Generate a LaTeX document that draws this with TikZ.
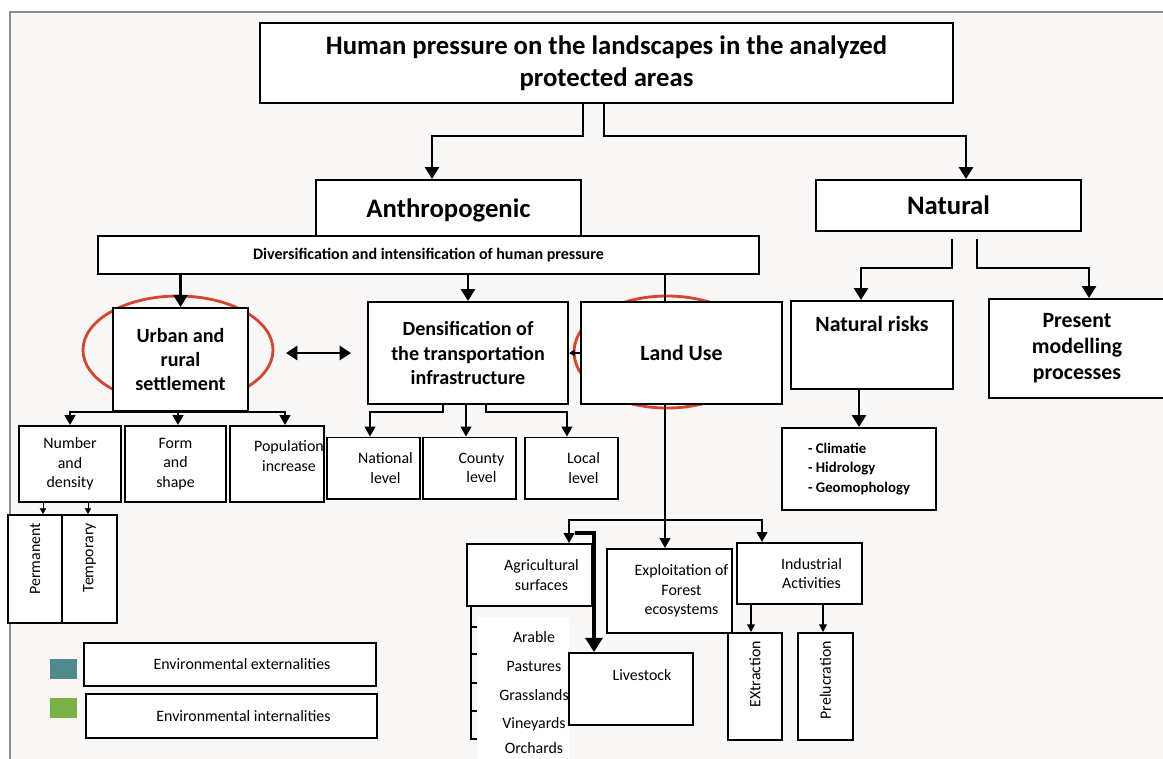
\documentclass[tikz,border=0pt]{standalone}
\usepackage{fontspec}
\setmainfont{Carlito}
\usepackage{tikz}
\usetikzlibrary{positioning, arrows.meta}

\definecolor{ringred}{HTML}{D8442E}
\definecolor{extteal}{HTML}{4F8A8C}
\definecolor{intgreen}{HTML}{78B146}
\definecolor{sheet}{HTML}{F9F8F6}

\tikzset{
	box/.style={draw, line width=1.4pt, fill=white, align=center, inner sep=2pt},
	titletxt/.style={font=\bfseries\fontsize{19}{23}\selectfont},
	headtxt/.style={font=\bfseries\fontsize{19}{22}\selectfont},
	midtxt/.style={font=\bfseries\fontsize{14.3}{17.4}\selectfont},
	bigtxt/.style={font=\bfseries\fontsize{15.5}{18.5}\selectfont},
	bartxt/.style={font=\bfseries\fontsize{11.4}{13}\selectfont},
	listtxt/.style={font=\bfseries\fontsize{10.5}{13.9}\selectfont},
	smalltxt/.style={font=\fontsize{11.3}{13.9}\selectfont, align=center},
	offtxt/.style={label={[smalltxt, anchor=center, xshift=0.3cm]center:#1}},
	vbox/.style={box, smalltxt, rotate=90, align=right},
	ring/.style={draw=ringred, line width=2pt},
	arr/.style={line width=1.8pt, -{Triangle[width=10pt,length=8.5pt]}},
	arrmid/.style={line width=1.4pt, -{Triangle[width=7.5pt,length=7pt]}},
	arrsmall/.style={line width=1pt, -{Triangle[width=5.5pt,length=5.5pt]}},
	arrtiny/.style={line width=0.5pt, -{Triangle[width=4.5pt,length=4pt]}},
	link/.style={line width=1.4pt},
}

\begin{document}
\begin{tikzpicture}[x=0.025cm, y=-0.025cm]
	\useasboundingbox (0,0) rectangle (1163,758);
	\fill[white] (0,0) rectangle (1163,758);
	\draw[fill=sheet, draw=black!45, line width=0.8pt] (10,12) rectangle (1180,775);
	
	\draw[ring] (178,350) ellipse [x radius=95, y radius=54];
	\draw[ring] (667,352) ellipse [x radius=93, y radius=56];
	
	\node[box, titletxt, minimum width=17.325cm, minimum height=2cm] (title) at (606.5,63) {Human pressure on the landscapes in the analyzed\\protected areas};
	\node[box, headtxt, minimum width=6.625cm, minimum height=1.5cm] (anthro) at (448.5,210) {Anthropogenic};
	\node[box, headtxt, minimum width=6.625cm, minimum height=1.275cm] (natural) at (948.5,205.5) {Natural};
	\node[box, bartxt, minimum width=16.525cm, minimum height=0.95cm] (divers) at (428.5,255) {Diversification and intensification of human pressure};
	
	\draw[arr] ([xshift=-0.5875cm]title.south) -- ++(0,32) -| ([xshift=-0.4125cm]anthro.north);
	\draw[arr] ([xshift=-0.0625cm]title.south) -- ++(0,32) -| ([xshift=0.4375cm]natural.north);
	
	\node[box, midtxt, minimum width=3.375cm, minimum height=2.575cm] (urban) at (180.5,359.5) {Urban and\\rural\\settlement};
	\node[box, midtxt, minimum width=5cm, minimum height=2.55cm] (dens) at (468,353) {Densification of\\the transportation\\infrastructure};
	\node[box, bigtxt, minimum width=5.025cm, minimum height=2.55cm] (landuse) at (681.5,353) {Land Use};
	\node[box, minimum width=4.05cm, minimum height=2.2cm, label={[bigtxt, anchor=north, yshift=-0.275cm]north:Natural risks}] (risks) at (872,345) {};
	\node[box, bigtxt, minimum width=4.4cm, minimum height=2.475cm] (present) at (1077,348.5) {Present\\modelling\\processes};
	\node[box, listtxt, align=left, minimum width=3.85cm, minimum height=2.05cm] (climate) at (859,469) {- Climatie\\- Hidrology\\- Geomophology};
	
	\draw[arr] (urban.north |- divers.south) -- (urban.north);
	\draw[arr] (dens.north |- divers.south) -- (dens.north);
	\draw[link] ([xshift=-0.4125cm]landuse.north |- divers.south) -- ([xshift=-0.4125cm]landuse.north);
	\draw[{Triangle[width=10pt,length=8pt]}-{Triangle[width=10pt,length=8pt]}, line width=1.8pt] ([xshift=0.925cm]urban.east |- dens.west) -- ([xshift=-0.4cm]dens.west);
	\draw[arrtiny, line width=1pt] (landuse.west) -- (dens.east);
	\draw[arr] ([xshift=0.0875cm, yshift=-0.175cm]natural.south) -- ++(0,29) -| ([xshift=-0.275cm]risks.north);
	\draw[arr] ([xshift=0.7125cm, yshift=-0.175cm]natural.south) -- ++(0,29) -| ([xshift=0.3cm]present.north);
	\draw[arr] (climate.north |- risks.south) -- (climate.north);
	
	\node[box, smalltxt, minimum width=2.55cm, minimum height=1.9cm] (number) at (70,464) {Number\\and\\density};
	\node[box, smalltxt, minimum width=2.525cm, minimum height=1.9cm, right=0.05cm of number] (form) {Form\\and\\shape};
	\node[box, minimum width=2.35cm, minimum height=1.9cm, right=0.05cm of form, label={[smalltxt, anchor=center, xshift=0.3cm, yshift=0.2cm]center:Population\\increase}] (pop) {};
	\node[box, minimum width=2.325cm, minimum height=1.525cm, right=0.025cm of pop, yshift=-0.1cm, offtxt={National\\level}] (national) {};
	\node[box, minimum width=2.325cm, minimum height=1.525cm, right=0.025cm of national, offtxt={County\\level}] (county) {};
	\node[box, minimum width=2.325cm, minimum height=1.525cm, right=0.175cm of county, offtxt={Local\\level}] (local) {};
	
	\node[vbox, minimum width=2.7cm, minimum height=1.35cm, text width=2.3cm] (perm) at (35,569) {Permanent};
	\node[vbox, minimum width=2.7cm, minimum height=1.375cm, text width=2.3cm] (temp) at (89.5,569) {Temporary};
	\draw[arrtiny] ([xshift=-0.675cm]number.south) -- ([xshift=-0.675cm]number.south |- perm.east);
	\draw[arrtiny] ([xshift=0.45cm]number.south) -- ([xshift=0.45cm]number.south |- temp.east);
	
	\draw[arrmid] (urban.south) -| (number.north);
	\draw[arrmid] ([xshift=-0.0625cm]urban.south) -- ([xshift=-0.0625cm]urban.south |- form.north);
	\draw[arrmid] (urban.south) -| ([xshift=0.2cm]pop.north);
	\draw[arrmid] ([xshift=-0.625cm]dens.south) -- ++(0,7) -| ([xshift=-0.0875cm]national.north);
	\draw[arrmid] ([xshift=-0.05cm]dens.south) -- ([xshift=-0.05cm]dens.south |- county.north);
	\draw[arrmid] ([xshift=0.45cm]dens.south) -- ++(0,7) -| ([xshift=-0.1125cm]local.north);
	
	\node[fill=extteal, minimum width=0.675cm, minimum height=0.5cm, inner sep=0pt] (extkey) at (63.5,669) {};
	\node[fill=intgreen, minimum width=0.675cm, minimum height=0.5cm, inner sep=0pt] (intkey) at (63.5,708) {};
	\node[box, minimum width=7.3cm, minimum height=1.075cm, offtxt={Environmental externalities}] (extbox) at (230,664.5) {};
	\node[box, minimum width=7.275cm, minimum height=1.1cm, offtxt={Environmental internalities}] (intbox) at (231.5,716) {};
	
	\node[box, minimum width=3.125cm, minimum height=1.55cm, offtxt={Agricultural\\surfaces}] (agri) at (529.5,575) {};
	\node[box, minimum width=3.125cm, minimum height=2.1cm, offtxt={Exploitation of\\Forest\\ecosystems}] (forest) at (669.5,591) {};
	\node[box, minimum width=3.125cm, minimum height=1.525cm, offtxt={Industrial\\Activities}] (indus) at (799.5,573.5) {};
	\node[vbox, minimum width=2.675cm, minimum height=1.35cm, text width=2.275cm] (extr) at (755,686.5) {EXtraction};
	\node[vbox, minimum width=2.675cm, minimum height=1.375cm, text width=2.275cm] (prel) at (825.5,686.5) {Prelucration};
	
	\draw[link, line width=1.8pt] ([xshift=-0.4125cm]landuse.south) -- ++(0,115) coordinate (lusplit);
	\draw[arrmid] (lusplit) -| ([xshift=0.9875cm]agri.north);
	\draw[arrmid] (lusplit) -- (lusplit |- forest.north);
	\draw[arrmid] (lusplit) -| ([xshift=-0.9375cm]indus.north);
	\draw[arrsmall] ([xshift=-1.2125cm]indus.south) -- ([xshift=-1.2125cm]indus.south |- extr.east);
	\draw[arrsmall] ([xshift=0.5875cm]indus.south) -- ([xshift=0.5875cm]indus.south |- prel.east);
	
	\draw[link, line width=1pt] ([xshift=-1.4625cm]agri.south) -- ++(0,132) -- ++(8,0);
	\foreach \ty in {627,654,683,711}
		\draw[link, line width=1pt] (471,\ty) -- ++(8,0);
	\fill[white] (477,617) rectangle (569,765);
	\foreach \crop/\cy in {Arable/637,Pastures/666,Grasslands/695,Vineyards/724,Orchards/748}
		\node[smalltxt] (\crop) at (534,\cy) {\crop};
	
	\coordinate (lvstart) at (575,533);
	\node[box, minimum width=3.1cm, minimum height=1.8cm, label={[smalltxt, anchor=center, xshift=0.275cm, yshift=0.35cm]center:Livestock}] (live) at (631,689) {};
	\draw[line width=2.2pt, -{Triangle[width=12pt,length=10pt]}] (lvstart) -| ([xshift=-0.925cm]live.north);
	
\end{tikzpicture}
\end{document}
